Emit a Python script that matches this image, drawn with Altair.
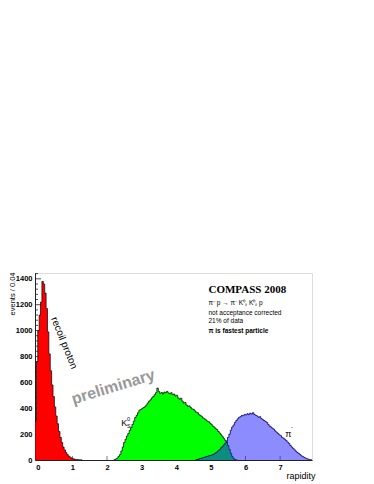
import altair as alt
import pandas as pd

STEP = 0.04

# recoil proton, bins of 0.04 starting at -0.08
proton_start = -0.08
proton = [300, 760, 1000, 1120, 1220, 1380, 1360, 1290, 1170, 990, 820, 690, 580, 490,
          410, 340, 280, 220, 175, 135, 100, 78, 58, 42, 30, 22, 15, 10, 7, 4, 3, 2, 1, 1]

# K0s, bins of 0.04 starting at 2.20
kaon_start = 2.20
kaon = [3, 8, 15, 28, 42, 70, 100, 135, 160, 185, 205, 228, 250, 275, 300, 328, 345, 365,
        385, 390, 398, 405, 412, 425, 440, 455, 465, 480, 490, 505, 520, 556, 530, 515, 522,
        510, 525, 520, 530, 518, 512, 520, 505, 510, 495, 500, 480, 470, 478, 455, 440, 445,
        425, 415, 418, 405, 395, 392, 380, 370, 365, 350, 345, 335, 325, 318, 310, 300, 295,
        285, 275, 262, 255, 242, 235, 220, 208, 195, 180, 165, 152, 140, 112, 82, 52, 28, 12,
        4, 1]

# pi-, bins of 0.04 starting at 4.56
pion_start = 4.56
pion = [2, 4, 8, 12, 15, 18, 22, 25, 28, 32, 35, 38, 42, 48, 55, 62, 72, 82, 95, 105, 118,
        130, 145, 175, 200, 230, 255, 270, 290, 305, 318, 330, 335, 345, 342, 352, 348, 358,
        350, 362, 355, 365, 352, 345, 340, 330, 335, 320, 312, 305, 298, 290, 275, 262, 255,
        245, 238, 225, 215, 205, 195, 188, 175, 168, 160, 150, 138, 128, 112, 100, 90, 78, 68,
        58, 50, 42, 32, 26, 20, 14, 10, 6, 3, 1]

y_major = [0, 200, 400, 600, 800, 1000, 1200, 1400]
y_minor = [v for v in range(40, 1445, 40) if v % 200 != 0]
x_major = [0, 1, 2, 3, 4, 5, 6, 7]

info_lines = ["π⁻ p → π⁻ K⁰ₛ K⁰ₛ p", "not acceptance corrected", "21% of data"]


def area_df(start, vals):
    rows = [{"x": round(start + k * STEP, 4), "y": v} for k, v in enumerate(vals)]
    rows.append({"x": round(start + len(vals) * STEP, 4), "y": 0})
    return pd.DataFrame(rows)


def line_df(start, vals):
    rows = [{"x": start, "y": 0, "i": 0}]
    for k, v in enumerate(vals):
        rows.append({"x": round(start + k * STEP, 4), "y": v, "i": k + 1})
    rows.append({"x": round(start + len(vals) * STEP, 4), "y": 0, "i": len(vals) + 1})
    return pd.DataFrame(rows)


xscale = alt.Scale(domain=[-0.08, 7.92], nice=False, zero=False)
yscale = alt.Scale(domain=[0, 1445], nice=False)

FONT = "Liberation Sans"

xaxis = alt.Axis(values=x_major, format="d", ticks=False, grid=False, domainColor="#222",
                 labelFont=FONT, labelFontSize=7.5, labelFontWeight="bold", labelColor="black",
                 labelPadding=3, title="rapidity", titleFont=FONT, titleFontSize=9,
                 titleFontWeight="normal", titleAlign="right", titleAnchor="end",
                 titleX=280, titleY=18, titleBaseline="alphabetic", titleColor="black")
yaxis = alt.Axis(values=y_major, format="d", ticks=False, grid=False, domainColor="#222",
                 labelFont=FONT, labelFontSize=7.5, labelFontWeight="bold", labelColor="black",
                 labelPadding=3, title="events / 0.04", titleFont=FONT, titleFontSize=7.5,
                 titleFontWeight="normal", titleAngle=270, titleAlign="right",
                 titleX=-20.5, titleY=-1, titleBaseline="alphabetic", titleColor="black")

X = alt.X("x:Q", scale=xscale, axis=xaxis)
Y = alt.Y("y:Q", scale=yscale, axis=yaxis)

ticks_major = alt.Chart(pd.DataFrame({"y": y_major})).mark_rule(color="#222", strokeWidth=0.8).encode(
    y=Y, x=alt.value(0), x2=alt.value(6))
ticks_minor = alt.Chart(pd.DataFrame({"y": y_minor})).mark_rule(color="#222", strokeWidth=0.8).encode(
    y=Y, x=alt.value(0), x2=alt.value(3))
xticks = alt.Chart(pd.DataFrame({"x": x_major})).mark_rule(color="#444", strokeWidth=0.7).encode(
    x=X, y=alt.value(187), y2=alt.value(183))


def hist(start, vals, fill, stroke, opacity=1.0):
    a = alt.Chart(area_df(start, vals)).mark_area(
        interpolate="step-after", color=fill, opacity=opacity, clip=True).encode(x=X, y=Y)
    l = alt.Chart(line_df(start, vals)).mark_line(
        interpolate="step-after", color=stroke, strokeWidth=0.8, clip=True).encode(
        x=X, y=Y, order="i:Q")
    return a + l


red = hist(proton_start, proton, "#ff0000", "#111111")
green = hist(kaon_start, kaon, "#00ff00", "#111111")
blue = hist(pion_start, pion, "#1a1aff", "#000066", opacity=0.5)


def label(df, font=FONT, **kw):
    return alt.Chart(pd.DataFrame(df)).mark_text(font=font, **kw).encode(
        x=X, y=Y, text="t:N")


title = label({"x": [4.93], "y": [1290], "t": ["COMPASS 2008"]}, font="Liberation Serif",
              align="left", baseline="alphabetic", fontSize=11, fontWeight="bold", color="black")
info = label({"x": [4.93] * 3, "y": [1198, 1124, 1055], "t": info_lines}, align="left",
             baseline="alphabetic", fontSize=6.5, color="black")
fastest = label({"x": [4.93], "y": [985], "t": ["π is fastest particle"]}, align="left",
                baseline="alphabetic", fontSize=6.5, fontWeight="bold", color="black")
recoil = label({"x": [0.76], "y": [904], "t": ["recoil proton"]}, align="center", baseline="middle",
               fontSize=10, angle=68, color="black")
prelim = label({"x": [2.18], "y": [564], "t": ["preliminary"]}, align="center", baseline="middle",
               fontSize=16, fontWeight="bold", angle=343, color="#999999")
kmain = label({"x": [2.41], "y": [263], "t": ["K"]}, align="left", baseline="alphabetic",
              fontSize=9, color="black")
ksup = label({"x": [2.58], "y": [301], "t": ["0"]}, align="left", baseline="alphabetic",
             fontSize=5.5, color="black")
ksub = label({"x": [2.58], "y": [247], "t": ["S"]}, align="left", baseline="alphabetic",
             fontSize=5.5, color="black")
pimain = label({"x": [7.15], "y": [180], "t": ["π"]}, align="left", baseline="alphabetic",
               fontSize=9, color="black")
pisup = label({"x": [7.31], "y": [240], "t": ["-"]}, align="left", baseline="alphabetic",
              fontSize=6, color="black")

chart = alt.layer(
    ticks_major, ticks_minor, xticks, red, green, blue,
    title, info, fastest, recoil, prelim, kmain, ksup, ksub, pimain, pisup
).properties(
    width=277, height=187,
    autosize=alt.AutoSizeParams(type="none"),
    padding={"left": 27, "top": 265, "right": 40, "bottom": 22},
).configure_view(stroke="#888888", strokeWidth=1).configure(background="white")

chart.save("out.html", embed_options={"renderer": "svg", "actions": False})
